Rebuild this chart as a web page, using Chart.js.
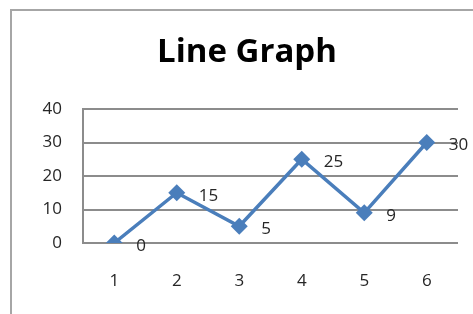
<!DOCTYPE html>
<html>
<head>
<meta charset="utf-8">
<script src="https://cdn.jsdelivr.net/npm/chart.js@4"></script>
<style>
  html, body { margin: 0; padding: 0; background: #fff; overflow: hidden; }
  canvas { display: block; }
</style>
</head>
<body>
<canvas id="lineChart" width="473" height="314"></canvas>
<script>
// Chart data
const categories = ['1', '2', '3', '4', '5', '6'];
const values = [0, 15, 5, 25, 9, 30];
const yMin = 0;
const yMax = 40;
const yStep = 10;
const chartTitle = 'Line Graph';

// Outer frame and title, drawn by hand so the title sits where Excel put it
const frameAndTitle = {
    id: 'frameAndTitle',
    beforeDraw(chart) {
        const ctx = chart.ctx;
        ctx.save();
        ctx.fillStyle = '#fff';
        ctx.fillRect(0, 0, chart.width, chart.height);
        ctx.strokeStyle = '#a6a6a6';
        ctx.lineWidth = 2;
        ctx.beginPath();
        ctx.moveTo(11, chart.height + 5);
        ctx.lineTo(11, 10);
        ctx.lineTo(chart.width + 5, 10);
        ctx.stroke();
        ctx.font = 'bold 33px "Open Sans"';
        ctx.fillStyle = '#000';
        ctx.textAlign = 'center';
        ctx.textBaseline = 'middle';
        ctx.fillText(chartTitle, 247, 53);
        ctx.restore();
    }
};

// Draw the value next to each point
const valueLabels = {
    id: 'valueLabels',
    afterDatasetsDraw(chart) {
        const ctx = chart.ctx;
        const meta = chart.getDatasetMeta(0);
        ctx.save();
        ctx.font = '17px "Open Sans"';
        ctx.fillStyle = '#262626';
        ctx.textAlign = 'left';
        ctx.textBaseline = 'middle';
        meta.data.forEach((pt, i) => {
            ctx.fillText(String(values[i]), pt.x + 22, pt.y + 3);
        });
        ctx.restore();
    }
};

const ctx = document.getElementById('lineChart').getContext('2d');
new Chart(ctx, {
    type: 'line',
    data: {
        labels: categories,
        datasets: [{
            data: values,
            borderColor: '#4a7ebb',
            backgroundColor: '#4a7ebb',
            borderWidth: 3.5,
            pointStyle: 'rectRot',
            pointRadius: 8.5,
            pointBorderWidth: 0,
            tension: 0
        }]
    },
    options: {
        responsive: false,
        animation: false,
        layout: { padding: { left: 0, right: 15, top: 109, bottom: 0 } },
        plugins: {
            legend: { display: false },
            tooltip: { enabled: false },
            title: { display: false }
        },
        scales: {
            x: {
                offset: true,
                grid: { display: false, drawTicks: false },
                border: { display: false },
                ticks: { color: '#262626', font: { family: 'Open Sans', size: 17 }, padding: 28 },
                afterFit(scale) { scale.height = 71; }
            },
            y: {
                min: yMin,
                max: yMax,
                grid: { color: '#8c8c8c', lineWidth: 2, drawTicks: false },
                border: { display: true, color: '#8c8c8c', width: 2 },
                ticks: { stepSize: yStep, color: '#262626', font: { family: 'Open Sans', size: 17 }, padding: 21 },
                afterFit(scale) { scale.width = 83; }
            }
        }
    },
    plugins: [frameAndTitle, valueLabels]
});
</script>
</body>
</html>
